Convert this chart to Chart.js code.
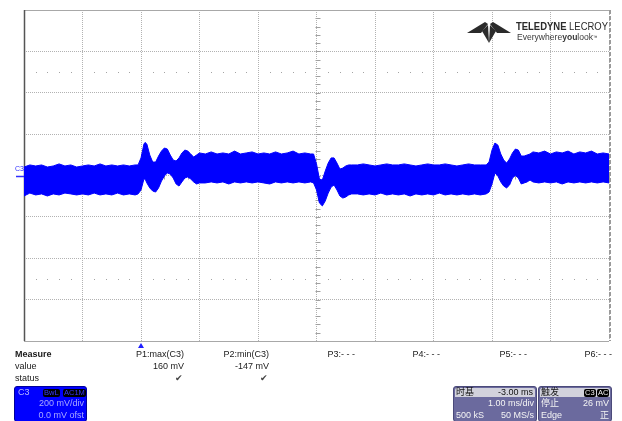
<!DOCTYPE html>
<html><head><meta charset="utf-8">
<script src="https://cdn.jsdelivr.net/npm/chart.js@4/dist/chart.umd.min.js"></script>
<style>
html,body{margin:0;padding:0;background:#fff;}
#wrap{position:relative;width:622px;height:421px;overflow:hidden;font-family:"Liberation Sans",Arial,"Noto Sans CJK SC",sans-serif;}
canvas{position:absolute;left:0;top:0;}
.t{position:absolute;font-size:9px;line-height:11px;color:#1a1a1a;white-space:nowrap;}
.r{text-align:right;}
.box{position:absolute;top:386px;height:36px;border-radius:3px;box-sizing:border-box;overflow:hidden;}
.box .t{color:#f4f4f4;}
.hdr{position:absolute;left:1px;right:1px;top:1px;height:9px;background:#d2d2dc;border-radius:2px 2px 0 0;}
.hdr .t{color:#111;line-height:9px;top:0;}
.badge{position:absolute;top:2px;height:8px;line-height:8px;font-size:7.5px;background:#000;border-radius:2px;padding:0 1px;white-space:nowrap;}
</style></head><body>
<div id="wrap">
<canvas id="c" width="622" height="421"></canvas>

<!-- channel ground marker label -->
<div class="t" id="c3lab" style="left:15px;top:165px;font-size:7px;line-height:7px;color:#2f2fff;">C3</div>

<!-- logo -->
<svg style="position:absolute;left:0;top:0" width="622" height="60">
  <polygon points="467,33 485,22 488,24 481,33" fill="#2b2b2b"/>
  <polygon points="511,33 493,22 490,24 497,33" fill="#2b2b2b"/>
  <polygon points="482,31 488,25 489,43" fill="#2b2b2b"/>
  <polygon points="496,31 490,25 489,43" fill="#2b2b2b"/>
</svg>
<div class="t" style="left:516px;top:20px;font-size:11px;line-height:12px;color:#2a2a2a;transform:scaleX(0.86);transform-origin:0 0;"><b>TELEDYNE</b> LECROY</div>
<div class="t" style="left:517px;top:32px;font-size:9.5px;line-height:10px;color:#3a3a3a;transform:scaleX(0.9);transform-origin:0 0;">Everywhere<b>you</b>look<span style="font-size:5px;vertical-align:top">™</span></div>

<!-- measure table -->
<div class="t" style="left:15px;top:349px;font-weight:bold;">Measure</div>
<div class="t" style="left:15px;top:361px;">value</div>
<div class="t" style="left:15px;top:373px;">status</div>
<div id="mrow"></div>

<!-- channel box -->
<div class="box" style="left:14px;width:73px;background:#0000ff;border:1px solid #00009a;">
  <div class="t" style="left:3px;top:0px;color:#b8b8ff;">C3</div>
  <div class="badge" style="left:28px;color:#3a3aff;">BwL</div>
  <div class="badge" style="left:48px;color:#3a3aff;">AC1M</div>
  <div class="t r" style="right:2px;top:11px;color:#a8a8ff;">200 mV/div</div>
  <div class="t r" style="right:2px;top:23px;color:#a8a8ff;">0.0 mV ofst</div>
</div>

<!-- timebase box -->
<div class="box" style="left:453px;width:84px;background:#6b6a9e;border:1px solid #4b4a7a;">
  <div class="hdr"><div class="t" style="left:1px;">时基</div><div class="t r" style="right:2px;">-3.00 ms</div></div>
  <div class="t r" style="right:2px;top:11px;">1.00 ms/div</div>
  <div class="t" style="left:2px;top:23px;">500 kS</div>
  <div class="t r" style="right:2px;top:23px;">50 MS/s</div>
</div>

<!-- trigger box -->
<div class="box" style="left:538px;width:74px;background:#6b6a9e;border:1px solid #4b4a7a;">
  <div class="hdr"><div class="t" style="left:1px;">触发</div></div>
  <div class="badge" style="left:45px;color:#eee;">C3</div>
  <div class="badge" style="left:58px;color:#eee;">AC</div>
  <div class="t" style="left:2px;top:11px;">停止</div>
  <div class="t r" style="right:2px;top:11px;">26 mV</div>
  <div class="t" style="left:2px;top:23px;">Edge</div>
  <div class="t r" style="right:2px;top:23px;">正</div>
</div>
</div>

<script>
// ---- axis settings (ms, mV) ----
const timeRangeMs = [-2, 8];
const timeDivMs = 1;
const voltRangeMv = [-800, 800];
const voltDivMv = 200;
const triggerTimeMs = 0;

// ---- measurement table ----
const measureNames = ["P1:max(C3)", "P2:min(C3)", "P3:- - -", "P4:- - -", "P5:- - -", "P6:- - -"];
const measureValues = ["160 mV", "-147 mV", "", "", "", ""];
const measureStatus = ["✔", "✔", "", "", "", ""];

// ---- waveform envelope of C3 (time in ms, voltage in mV) ----
const timeMs = [
  -2.0,-1.9,-1.8,-1.7,-1.6,-1.5,-1.4,-1.3,-1.2,-1.1,-1.0,-0.9,-0.8,-0.7,-0.6,-0.5,-0.4,-0.3,-0.2,-0.1,
  -0.05,0,0.05,0.07,0.1,0.15,0.2,0.25,0.3,0.35,0.4,0.45,0.5,0.55,0.6,0.65,0.7,0.75,0.8,0.85,0.9,0.95,1.0,
  1.1,1.2,1.3,1.4,1.5,1.6,1.7,1.8,1.9,2.0,2.1,2.2,2.3,2.4,2.5,2.6,2.7,2.8,2.9,
  2.95,3.0,3.05,3.1,3.15,3.2,3.25,3.3,3.35,3.4,3.45,3.5,3.55,3.6,
  3.7,3.8,3.9,4.0,4.1,4.2,4.3,4.4,4.5,4.6,4.7,4.8,4.9,5.0,5.1,5.2,5.3,5.4,5.5,5.6,5.7,5.8,5.9,
  5.95,6.0,6.05,6.1,6.15,6.2,6.25,6.3,6.35,6.4,6.45,6.5,6.55,6.6,6.65,6.7,
  6.8,6.9,7.0,7.1,7.2,7.3,7.4,7.5,7.6,7.7,7.8,7.9,8.0
];
const upperMv = [
  41,51,46,51,41,46,56,46,51,41,46,51,46,56,46,51,46,51,46,51,
  51,85,152,160,152,99,65,65,94,118,133,128,99,75,70,85,109,123,118,104,89,99,109,
  104,114,104,109,104,118,104,109,114,104,109,104,114,104,109,118,104,109,104,
  104,56,-17,-22,22,60,85,85,60,31,36,46,51,51,
  51,56,51,46,51,56,51,51,56,51,46,51,56,51,51,56,51,46,51,56,51,51,51,
  65,123,157,147,104,75,60,80,109,128,123,94,94,99,104,114,
  109,118,104,114,109,118,104,114,109,118,104,109,104
];
const lowerMv = [
  -99,-85,-94,-89,-99,-89,-94,-85,-89,-94,-89,-94,-85,-94,-89,-94,-85,-94,-89,-94,
  -89,-70,-17,-17,-36,-60,-75,-80,-60,-27,-2,12,7,-12,-41,-51,-31,-12,-7,-17,-31,-41,-36,
  -36,-31,-36,-31,-41,-31,-36,-31,-36,-31,-36,-41,-31,-36,-31,-36,-31,-36,-31,
  -36,-70,-133,-147,-123,-85,-56,-46,-70,-99,-109,-104,-94,-89,
  -89,-94,-89,-94,-85,-94,-89,-94,-89,-99,-89,-94,-89,-94,-85,-94,-89,-94,-89,-94,-89,-94,-89,
  -80,-41,12,-2,-31,-51,-60,-46,-12,0,-12,-41,-36,-31,-22,-31,
  -36,-31,-36,-31,-41,-31,-36,-31,-36,-31,-36,-31,-36
];

// measurement table text
(function(){
  const rights = [184, 269, 355, 440, 527, 612];
  let html = "";
  measureNames.forEach((n,i)=>{
    const r = 622 - rights[i];
    html += `<div class="t r" style="right:${r}px;top:349px;">${n}</div>`;
    if (measureValues[i]) html += `<div class="t r" style="right:${r}px;top:361px;">${measureValues[i]}</div>`;
    if (measureStatus[i]) html += `<div class="t r" style="right:${r+1}px;top:373px;color:#444;">${measureStatus[i]}</div>`;
  });
  document.getElementById('mrow').innerHTML = html;
})();

const scopeDecor = {
  id: 'scopeDecor',
  beforeDatasetsDraw(chart) {
    const {ctx, chartArea: a, scales: {x, y}} = chart;
    ctx.save();
    // dotted rows at +/-2.5 div
    ctx.fillStyle = '#a4a4a4';
    [2.5 * voltDivMv, -2.5 * voltDivMv].forEach(v => {
      const py = Math.round(y.getPixelForValue(v));
      for (let t = timeRangeMs[0]; t < timeRangeMs[1] - 1e-9; t += timeDivMs) {
        for (let k = 1; k < 5; k++) {
          const px = Math.round(x.getPixelForValue(t + k * timeDivMs / 5));
          ctx.fillRect(px, py, 1, 1);
        }
      }
    });
    // center axis minor ticks
    const cx = Math.round(x.getPixelForValue((timeRangeMs[0] + timeRangeMs[1]) / 2)) + 0.5;
    const cy = Math.round(y.getPixelForValue(0)) + 0.5;
    ctx.strokeStyle = '#a0a0a0';
    ctx.lineWidth = 1;
    ctx.beginPath();
    for (let v = voltRangeMv[0]; v <= voltRangeMv[1] + 1e-9; v += voltDivMv / 5) {
      const py = Math.round(y.getPixelForValue(v)) + 0.5;
      ctx.moveTo(cx - 2, py); ctx.lineTo(cx + 3, py);
    }
    for (let t = timeRangeMs[0]; t <= timeRangeMs[1] + 1e-9; t += timeDivMs / 5) {
      const px = Math.round(x.getPixelForValue(t)) + 0.5;
      ctx.moveTo(px, cy - 2); ctx.lineTo(px, cy + 3);
    }
    ctx.stroke();
    // frame
    ctx.strokeStyle = '#a8a8a8';
    ctx.beginPath();
    ctx.moveTo(a.left, Math.round(a.top) + 0.5); ctx.lineTo(a.right, Math.round(a.top) + 0.5);
    ctx.moveTo(a.left, Math.round(a.bottom) + 0.5); ctx.lineTo(a.right, Math.round(a.bottom) + 0.5);
    ctx.stroke();
    ctx.strokeStyle = '#555';
    ctx.lineWidth = 1.5;
    ctx.beginPath();
    ctx.moveTo(Math.round(a.left) + 0.5, a.top); ctx.lineTo(Math.round(a.left) + 0.5, a.bottom);
    ctx.stroke();
    ctx.strokeStyle = '#9a9a9a';
    ctx.lineWidth = 2;
    ctx.setLineDash([4, 2]);
    ctx.beginPath();
    ctx.moveTo(Math.round(a.right) + 1, a.top); ctx.lineTo(Math.round(a.right) + 1, a.bottom);
    ctx.stroke();
    ctx.setLineDash([]);
    // ground marker for C3
    ctx.strokeStyle = '#2f2fff';
    ctx.lineWidth = 1.5;
    ctx.beginPath();
    ctx.moveTo(a.left - 8, cy); ctx.lineTo(a.left, cy);
    ctx.stroke();
    ctx.restore();
  },
  afterDraw(chart) {
    const {ctx, chartArea: a, scales: {x}} = chart;
    const px = x.getPixelForValue(triggerTimeMs);
    ctx.save();
    ctx.fillStyle = '#1f1fff';
    ctx.beginPath();
    ctx.moveTo(px, a.bottom + 2); ctx.lineTo(px + 3, a.bottom + 7); ctx.lineTo(px - 3, a.bottom + 7);
    ctx.closePath(); ctx.fill();
    ctx.restore();
  }
};

new Chart(document.getElementById('c'), {
  type: 'line',
  data: {
    datasets: [
      {
        label: 'C3 upper',
        data: timeMs.map((t, i) => ({x: t, y: upperMv[i]})),
        borderColor: '#0000ff', backgroundColor: '#0000ff', borderWidth: 1,
        pointRadius: 0, tension: 0, fill: '+1'
      },
      {
        label: 'C3 lower',
        data: timeMs.map((t, i) => ({x: t, y: lowerMv[i]})),
        borderColor: '#0000ff', backgroundColor: '#0000ff', borderWidth: 1,
        pointRadius: 0, tension: 0, fill: false
      }
    ]
  },
  options: {
    responsive: false,
    animation: false,
    devicePixelRatio: 1,
    layout: {padding: {left: 24, top: 10, right: 13, bottom: 80}},
    plugins: {legend: {display: false}, tooltip: {enabled: false}},
    scales: {
      x: {
        type: 'linear', min: timeRangeMs[0], max: timeRangeMs[1],
        ticks: {display: false, stepSize: timeDivMs},
        grid: {color: '#b2b2b2', drawTicks: false, lineWidth: 1},
        border: {display: false, dash: [1, 1]}
      },
      y: {
        type: 'linear', min: voltRangeMv[0], max: voltRangeMv[1],
        ticks: {display: false, stepSize: voltDivMv},
        grid: {color: '#b2b2b2', drawTicks: false, lineWidth: 1},
        border: {display: false, dash: [1, 1]}
      }
    }
  },
  plugins: [scopeDecor]
});
</script>
</body></html>
